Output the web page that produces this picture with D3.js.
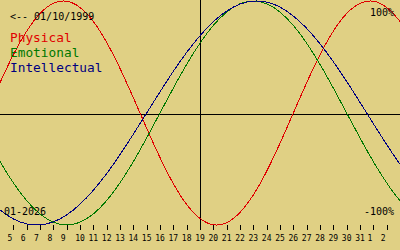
<!DOCTYPE html>
<html>
<head>
<meta charset="utf-8">
<script src="https://cdn.jsdelivr.net/npm/d3@7"></script>
<style>
  html, body { margin: 0; padding: 0; background: #e0d084; }
  svg { display: block; }
  text { font-family: "DejaVu Sans Mono", "Liberation Mono", monospace; }
</style>
</head>
<body>
<svg id="chart" width="400" height="250"></svg>
<script>
// Days (January 2026 day numbers, continuing into February as 32, 33, ...)
const days = [3,4,5,6,7,8,9,10,11,12,13,14,15,16,17,18,19,20,21,22,23,24,25,26,27,28,29,30,31,32,33,34,35];

// Series values (-1 .. 1)
const physical = [0,0.27,0.52,0.73,0.888,0.979,0.998,0.942,0.817,0.631,0.398,0.136,-0.136,-0.398,-0.631,-0.817,-0.942,-0.998,-0.979,-0.888,-0.731,-0.52,-0.27,0,0.27,0.52,0.731,0.888,0.979,0.998,0.942,0.817,0.631];
const emotional = [-0.2225,-0.434,-0.6235,-0.782,-0.901,-0.975,-1,-0.975,-0.901,-0.782,-0.6235,-0.434,-0.2225,0,0.2225,0.434,0.6235,0.782,0.901,0.975,1,0.975,0.901,0.782,0.6235,0.434,0.2225,0,-0.2225,-0.434,-0.6235,-0.782,-0.901];
const intellectual = [-0.756,-0.866,-0.946,-0.99,-0.999,-0.972,-0.91,-0.815,-0.69,-0.541,-0.372,-0.189,0,0.189,0.372,0.541,0.69,0.815,0.91,0.972,0.999,0.99,0.946,0.866,0.756,0.618,0.458,0.282,0.095,-0.095,-0.282,-0.458,-0.618];

// Tick days and labels
const tickDays = [5,6,7,8,9,10,11,12,13,14,15,16,17,18,19,20,21,22,23,24,25,26,27,28,29,30,31,32,33];
const tickLabels = ["5","6","7","8","9","10","11","12","13","14","15","16","17","18","19","20","21","22","23","24","25","26","27","28","29","30","31","1","2"];

const seriesNames = ["Physical","Emotional","Intellectual"];
const seriesColors = ["#e00000","#007800","#000080"];
const seriesData = [physical, emotional, intellectual];

const birthLabel = "<-- 01/10/1999";
const monthLabel = "01-2026";
const topLabel = "100%";
const bottomLabel = "-100%";
const todayDay = 19;

const W = 400, H = 250;
const svg = d3.select("#chart");

const x = d3.scaleLinear().domain([4, 34]).range([0, 400]);
const y = d3.scaleLinear().domain([-1, 1]).range([225, 1]);

svg.append("rect").attr("width", W).attr("height", H).attr("fill", "#e0d084");

// zero line and today line
svg.append("line")
  .attr("x1", 0).attr("x2", W)
  .attr("y1", Math.round(y(0)) + 1.5).attr("y2", Math.round(y(0)) + 1.5)
  .attr("stroke", "#000").attr("stroke-width", 1).attr("shape-rendering", "crispEdges");
svg.append("line")
  .attr("x1", x(todayDay) + 0.5).attr("x2", x(todayDay) + 0.5)
  .attr("y1", 0).attr("y2", 230)
  .attr("stroke", "#000").attr("stroke-width", 1).attr("shape-rendering", "crispEdges");

// ticks
const tg = svg.append("g");
tickDays.forEach((d, i) => {
  const tx = Math.round(x(d)) + 0.5;
  tg.append("line")
    .attr("x1", tx).attr("x2", tx).attr("y1", 225).attr("y2", 230)
    .attr("stroke", "#000").attr("stroke-width", 1).attr("shape-rendering", "crispEdges");
  const lab = tickLabels[i];
  tg.append("text")
    .attr("x", x(d) - (lab.length === 1 ? 3.5 : 0))
    .attr("y", 241)
    .attr("text-anchor", "middle")
    .attr("font-size", "8px")
    .attr("fill", "#000")
    .text(lab);
});

// curves
const line = d3.line()
  .x((v, i) => x(days[i]))
  .y(v => y(v))
  .curve(d3.curveNatural);

seriesData.forEach((s, k) => {
  svg.append("path")
    .attr("d", line(s))
    .attr("fill", "none")
    .attr("stroke", seriesColors[k])
    .attr("stroke-width", 1)
    .attr("shape-rendering", "crispEdges");
});

// texts
svg.append("text").attr("x", 10).attr("y", 19.5).attr("font-size", "10px").attr("fill", "#000").text(birthLabel);
seriesNames.forEach((n, k) => {
  svg.append("text").attr("x", 10).attr("y", 42 + k * 15).attr("font-size", "12.8px")
    .attr("fill", seriesColors[k]).text(n);
});
svg.append("text").attr("x", 394).attr("y", 16).attr("text-anchor", "end").attr("font-size", "10px").attr("fill", "#000").text(topLabel);
svg.append("text").attr("x", 394).attr("y", 215).attr("text-anchor", "end").attr("font-size", "10px").attr("fill", "#000").text(bottomLabel);
svg.append("text").attr("x", 4).attr("y", 215).attr("font-size", "10px").attr("fill", "#000").text(monthLabel);
</script>
</body>
</html>
